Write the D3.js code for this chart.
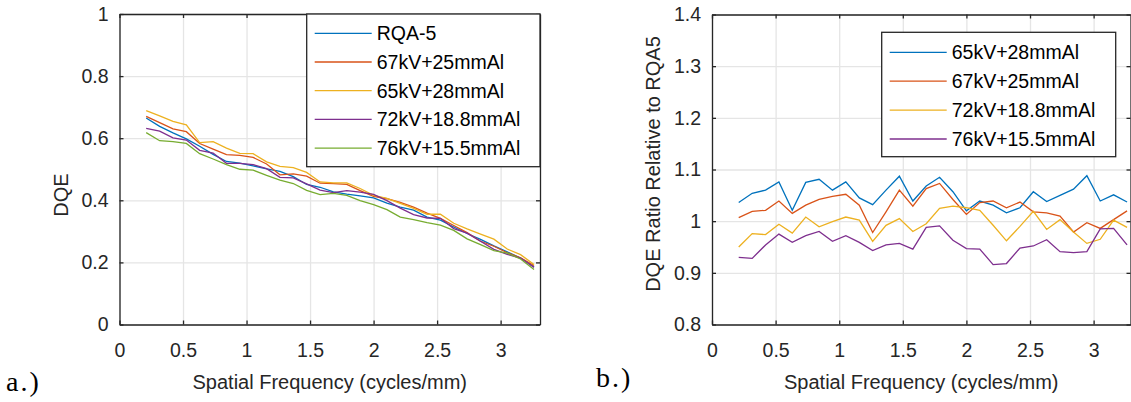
<!DOCTYPE html>
<html>
<head>
<meta charset="utf-8">
<script src="https://cdn.jsdelivr.net/npm/d3@7"></script>
<style>
  body { margin: 0; background: #fff; }
  svg { display: block; }
</style>
</head>
<body>
<svg id="chart" width="1131" height="402"></svg>
<script>
// spatial frequencies (cycles/mm)
const freq = [0.210, 0.316, 0.421, 0.526, 0.631, 0.737, 0.842, 0.947, 1.052, 1.158,
              1.263, 1.368, 1.473, 1.579, 1.684, 1.789, 1.894, 2.000, 2.105, 2.210,
              2.315, 2.421, 2.526, 2.631, 2.736, 2.842, 2.947, 3.052, 3.157, 3.263];

// a.) DQE curves
const dqeRQA5 = [0.665, 0.638, 0.617, 0.598, 0.574, 0.548, 0.525, 0.520, 0.511, 0.501,
                 0.493, 0.476, 0.451, 0.442, 0.427, 0.420, 0.414, 0.408, 0.391, 0.378,
                 0.368, 0.346, 0.336, 0.314, 0.293, 0.274, 0.253, 0.234, 0.214, 0.186];
const dqe67kV = [0.670, 0.650, 0.630, 0.621, 0.583, 0.565, 0.547, 0.545, 0.538, 0.517,
                 0.482, 0.485, 0.478, 0.455, 0.454, 0.451, 0.431, 0.413, 0.405, 0.393,
                 0.378, 0.359, 0.342, 0.319, 0.296, 0.268, 0.252, 0.231, 0.215, 0.190];
const dqe65kV = [0.689, 0.672, 0.654, 0.643, 0.586, 0.589, 0.568, 0.551, 0.550, 0.524,
                 0.509, 0.505, 0.490, 0.459, 0.456, 0.456, 0.438, 0.416, 0.406, 0.390,
                 0.374, 0.355, 0.355, 0.326, 0.308, 0.291, 0.275, 0.243, 0.225, 0.193];
const dqe72kV = [0.632, 0.623, 0.601, 0.594, 0.561, 0.552, 0.519, 0.519, 0.515, 0.502,
                 0.474, 0.472, 0.453, 0.433, 0.425, 0.431, 0.426, 0.419, 0.399, 0.375,
                 0.354, 0.343, 0.342, 0.309, 0.294, 0.268, 0.242, 0.226, 0.214, 0.184];
const dqe76kV = [0.618, 0.592, 0.589, 0.583, 0.550, 0.533, 0.515, 0.500, 0.497, 0.480,
                 0.465, 0.454, 0.432, 0.418, 0.422, 0.416, 0.399, 0.386, 0.370, 0.346,
                 0.338, 0.328, 0.320, 0.303, 0.276, 0.257, 0.238, 0.230, 0.211, 0.177];

// b.) ratio to RQA5
const ratio65kV = [1.036, 1.054, 1.060, 1.076, 1.021, 1.075, 1.081, 1.060, 1.076, 1.045,
                   1.032, 1.060, 1.087, 1.039, 1.068, 1.085, 1.057, 1.020, 1.039, 1.031,
                   1.016, 1.026, 1.057, 1.038, 1.050, 1.062, 1.088, 1.039, 1.051, 1.037];
const ratio67kV = [1.007, 1.019, 1.021, 1.039, 1.015, 1.031, 1.042, 1.048, 1.052, 1.031,
                   0.978, 1.018, 1.060, 1.029, 1.063, 1.073, 1.042, 1.013, 1.036, 1.039,
                   1.026, 1.037, 1.018, 1.016, 1.010, 0.979, 0.997, 0.986, 1.003, 1.020];
const ratio72kV = [0.950, 0.976, 0.974, 0.994, 0.977, 1.008, 0.989, 0.999, 1.008, 1.002,
                   0.961, 0.992, 1.005, 0.980, 0.995, 1.025, 1.029, 1.026, 1.021, 0.992,
                   0.962, 0.990, 1.019, 0.984, 1.003, 0.979, 0.957, 0.965, 1.002, 0.988];
const ratio76kV = [0.930, 0.928, 0.954, 0.975, 0.959, 0.972, 0.980, 0.961, 0.972, 0.959,
                   0.943, 0.954, 0.957, 0.946, 0.988, 0.991, 0.963, 0.947, 0.946, 0.916,
                   0.918, 0.948, 0.952, 0.964, 0.941, 0.939, 0.941, 0.985, 0.986, 0.954];

const xTicks = [0, 0.5, 1, 1.5, 2, 2.5, 3];
const yTicksA = [0, 0.2, 0.4, 0.6, 0.8, 1];
const yTicksB = [0.8, 0.9, 1, 1.1, 1.2, 1.3, 1.4];

const namesA = ['RQA-5', '67kV+25mmAl', '65kV+28mmAl', '72kV+18.8mmAl', '76kV+15.5mmAl'];
const namesB = ['65kV+28mmAl', '67kV+25mmAl', '72kV+18.8mmAl', '76kV+15.5mmAl'];

const colors = ['#0072BD', '#D95319', '#EDB120', '#7E2F8E', '#77AC30'];

const svg = d3.select('#chart');
const font = '"Liberation Sans", Arial, sans-serif';
const axisColor = '#262626';

function drawPanel(p) {
    const x = d3.scaleLinear().domain(p.xDomain).range(p.xRange);
    const y = d3.scaleLinear().domain(p.yDomain).range(p.yRange);
    const w = p.xRange[1] - p.xRange[0];
    const h = p.yRange[0] - p.yRange[1];
    const g = svg.append('g');

    // grid
    g.append('g')
    .attr('transform', `translate(0,${p.yRange[0]})`)
    .call(d3.axisBottom(x).tickValues(xTicks).tickSize(-h).tickFormat(''))
    .call(s => s.select('.domain').remove())
    .call(s => s.selectAll('line').attr('stroke', '#e5e5e5').attr('stroke-width', 1.3));
    g.append('g')
    .attr('transform', `translate(${p.xRange[0]},0)`)
    .call(d3.axisLeft(y).tickValues(p.yTicks).tickSize(-w).tickFormat(''))
    .call(s => s.select('.domain').remove())
    .call(s => s.selectAll('line').attr('stroke', '#e5e5e5').attr('stroke-width', 1.3));

    // lines
    const line = d3.line().x((d, i) => x(freq[i])).y(d => y(d));
    p.series.forEach((s, i) => {
        g.append('path')
        .datum(s)
        .attr('fill', 'none')
        .attr('stroke', colors[i])
        .attr('stroke-width', 1.3)
        .attr('d', line);
    });

    // axes (inward ticks, box)
    const styleAxis = s => {
        s.select('.domain').attr('stroke', axisColor).attr('stroke-width', 1.3);
        s.selectAll('.tick line').attr('stroke', axisColor).attr('stroke-width', 1.3);
        s.selectAll('.tick text').attr('font-size', 19.5).attr('font-family', font).attr('fill', axisColor);
    };
    g.append('g')
    .attr('transform', `translate(0,${p.yRange[0]})`)
    .call(d3.axisBottom(x).tickValues(xTicks).tickSizeInner(-4).tickSizeOuter(0).tickPadding(18.5).tickFormat(d3.format('')))
    .call(styleAxis);
    g.append('g')
    .attr('transform', `translate(0,${p.yRange[1]})`)
    .call(d3.axisTop(x).tickValues(xTicks).tickSizeInner(-4).tickSizeOuter(0).tickFormat(''))
    .call(styleAxis);
    g.append('g')
    .attr('transform', `translate(${p.xRange[0]},0)`)
    .call(d3.axisLeft(y).tickValues(p.yTicks).tickSizeInner(-4).tickSizeOuter(0).tickPadding(11).tickFormat(d3.format('')))
    .call(styleAxis);
    g.append('g')
    .attr('transform', `translate(${p.xRange[1]},0)`)
    .call(d3.axisRight(y).tickValues(p.yTicks).tickSizeInner(-4).tickSizeOuter(0).tickFormat(''))
    .call(styleAxis);

    // axis labels
    g.append('text')
    .attr('x', (p.xRange[0] + p.xRange[1]) / 2)
    .attr('y', 389)
    .attr('text-anchor', 'middle')
    .attr('font-family', font)
    .attr('font-size', 20)
    .attr('fill', axisColor)
    .text('Spatial Frequency (cycles/mm)');
    g.append('text')
    .attr('transform', `translate(${p.yLabelX},${p.yLabelY}) rotate(-90)`)
    .attr('text-anchor', 'middle')
    .attr('font-family', font)
    .attr('font-size', 20)
    .attr('fill', axisColor)
    .text(p.yLabel);

    // legend
    const L = p.legend;
    g.append('rect')
    .attr('x', L.x).attr('y', L.y).attr('width', L.w).attr('height', L.h)
    .attr('fill', '#fff').attr('stroke', axisColor).attr('stroke-width', 1.3);
    p.names.forEach((n, i) => {
        const cy = L.row0 + i * L.step;
        g.append('line')
        .attr('x1', L.x + 8).attr('x2', L.x + 65)
        .attr('y1', cy).attr('y2', cy)
        .attr('stroke', colors[i]).attr('stroke-width', 1.3);
        g.append('text')
        .attr('x', L.x + 70).attr('y', cy + 7)
        .attr('font-family', font).attr('font-size', 19.5).attr('fill', '#000')
        .text(n);
    });

    // panel tag
    svg.append('text')
    .attr('x', p.tagX).attr('y', p.tagY)
    .attr('font-family', '"Liberation Serif", "DejaVu Serif", serif')
    .attr('font-size', 28)
    .attr('letter-spacing', 2)
    .attr('fill', '#000')
    .text(p.tag);
}

drawPanel({
    xDomain: [0, 3.31], xRange: [119.5, 540],
    yDomain: [0, 1], yRange: [324.5, 14], yTicks: yTicksA,
    series: [dqeRQA5, dqe67kV, dqe65kV, dqe72kV, dqe76kV],
    names: namesA, yLabel: 'DQE', yLabelX: 68, yLabelY: 195,
    legend: { x: 306.7, y: 14, w: 233.3, h: 152.7, row0: 33.3, step: 28.7 },
    tag: 'a.)', tagX: 6, tagY: 391
});

drawPanel({
    xDomain: [0, 3.29], xRange: [712, 1130.5],
    yDomain: [0.8, 1.4], yRange: [324.5, 14.5], yTicks: yTicksB,
    series: [ratio65kV, ratio67kV, ratio72kV, ratio76kV],
    names: namesB, yLabel: 'DQE Ratio Relative to RQA5', yLabelX: 660, yLabelY: 164,
    legend: { x: 881.7, y: 32.3, w: 234, h: 124.4, row0: 52.3, step: 28.9 },
    tag: 'b.)', tagX: 596, tagY: 387
});
</script>
</body>
</html>
